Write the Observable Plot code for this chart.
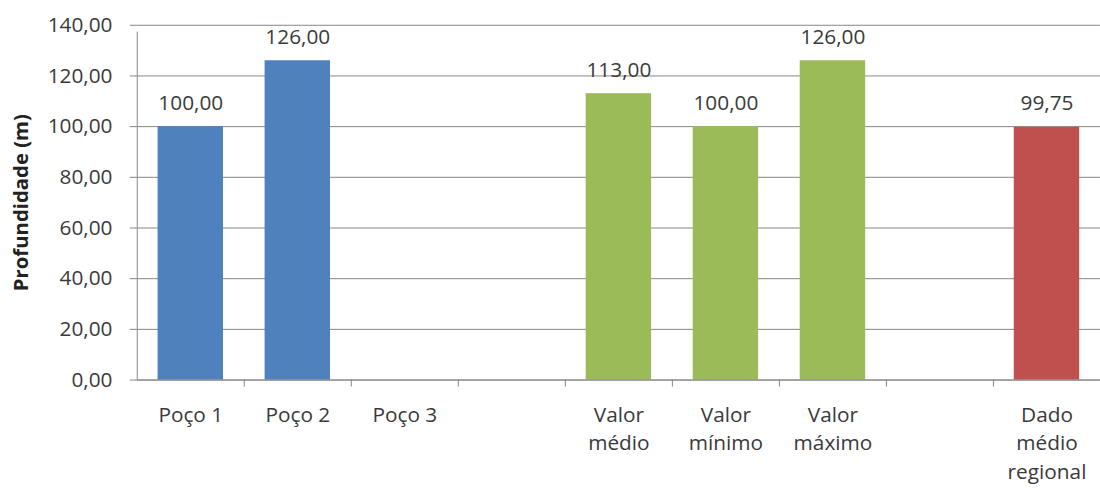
<!DOCTYPE html>
<html>
<head>
<meta charset="utf-8">
<script src="https://cdn.jsdelivr.net/npm/d3@7"></script>
<script src="https://cdn.jsdelivr.net/npm/@observablehq/plot@0.6"></script>
<style>
  html, body { margin: 0; padding: 0; background: #fff; }
  #chart { width: 1100px; height: 489px; overflow: hidden; }
</style>
</head>
<body>
<div id="chart"></div>
<script>
// Category slots along the x axis (two empty slots separate the groups)
const tickLabels = ["Poço 1", "Poço 2", "Poço 3", "", "Valor\nmédio", "Valor\nmínimo", "Valor\nmáximo", "", "Dado\nmédio\nregional"];
// Depth in metres for each slot (null = no bar)
const depths = [100.00, 126.00, null, null, 113.00, 100.00, 126.00, null, 99.75];
// Group of each slot, used for the bar colour
const groups = ["Poços", "Poços", "Poços", null, "Estatística", "Estatística", "Estatística", null, "Regional"];
const groupNames = ["Poços", "Estatística", "Regional"];
const groupColors = ["#4F81BD", "#9BBB59", "#C0504D"];
const yTicks = [0, 20, 40, 60, 80, 100, 120, 140];

const rows = depths.map((v, i) => ({slot: i, depth: v, group: groups[i]}));
const bars = rows.filter(d => d.depth != null);

const pt = d3.formatLocale({decimal: ",", thousands: ".", grouping: [3], currency: ["R$", ""]});
const fmt = pt.format(".2f");

const W = 1110, H = 489, ML = 138, MR = 0;
const slotWidth = (W - ML - MR) / tickLabels.length;
const grey = "#868686";
const ink = "#3a3a3a";

const chart = Plot.plot({
  width: W,
  height: H,
  marginLeft: ML,
  marginRight: MR,
  marginTop: 25,
  marginBottom: 106,
  style: {fontFamily: "'Open Sans', sans-serif", fontSize: "21px", color: ink, background: "#fff"},
  x: {domain: d3.range(tickLabels.length), paddingInner: 0.39, paddingOuter: 0.195, label: null},
  y: {domain: [0, 140], label: null},
  color: {domain: groupNames, range: groupColors},
  marks: [
    Plot.gridY({ticks: yTicks, stroke: grey, strokeOpacity: 1}),
    Plot.axisY({ticks: yTicks, tickFormat: fmt, tickSize: 7, tickPadding: 18, stroke: grey, label: null}),
    Plot.barY(bars, {x: "slot", y: "depth", fill: "group"}),
    Plot.text(bars, {x: "slot", y: "depth", text: d => fmt(d.depth), dy: -24, fill: ink}),
    // baseline and vertical axis line
    Plot.ruleY([0], {stroke: grey}),
    Plot.ruleX([0], {x: d => d, y1: 0, y2: 140, dx: -slotWidth / 2, insetBottom: -7, stroke: grey}),
    // category boundary ticks
    Plot.ruleX(d3.range(1, tickLabels.length), {x: d => d, y1: 0, y2: 0, dx: -slotWidth / 2, insetBottom: -7, stroke: grey}),
    Plot.axisX({tickSize: 0, tickPadding: 22, tickFormat: i => tickLabels[i], lineHeight: 1.36, label: null}),
    Plot.text(["Profundidade (m)"], {frameAnchor: "left", textAnchor: "middle", rotate: -90, dx: -117, fontWeight: "bold", fontSize: "20.5px", fill: "#222"})
  ]
});

document.getElementById("chart").appendChild(chart);
</script>
</body>
</html>
